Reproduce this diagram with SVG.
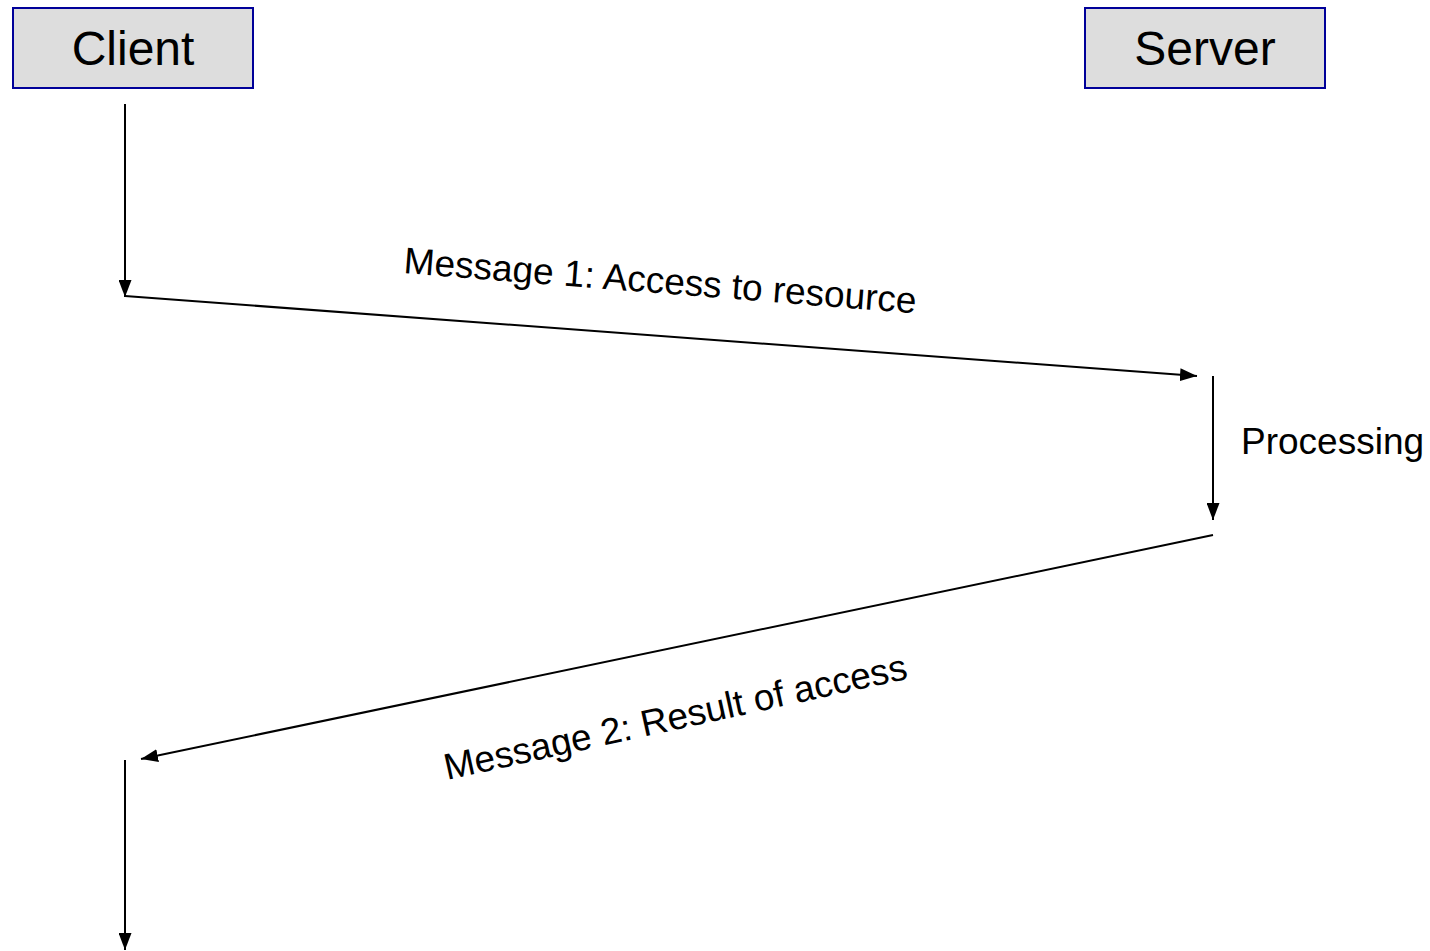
<svg xmlns="http://www.w3.org/2000/svg" width="1430" height="951" viewBox="0 0 1430 951">
<style>
.box{fill:#dddddd;stroke:#000099;stroke-width:2}
.lbl{font-family:"Liberation Sans",Arial,sans-serif;fill:#000}
.t{font-size:48px;text-anchor:middle}
.m{font-size:37px}
.c{stroke:#000;stroke-width:2;fill:none}
</style>
<defs>
<marker id="ah" viewBox="0 0 17 13" refX="17" refY="6.5" markerWidth="17" markerHeight="13" markerUnits="userSpaceOnUse" orient="auto">
<path d="M0,0 L17,6.5 L0,13 Z" fill="#000"/>
</marker>
</defs>
<g id="client">
<rect class="box" x="13" y="8" width="240" height="80"/>
<text class="lbl t" x="133" y="65">Client</text>
</g>
<g id="server">
<rect class="box" x="1085" y="8" width="240" height="80"/>
<text class="lbl t" x="1205" y="65">Server</text>
</g>
<g id="connectors">
<line class="c" x1="125" y1="104" x2="125" y2="297" marker-end="url(#ah)"/>
<line class="c" x1="125" y1="296" x2="1197" y2="376" marker-end="url(#ah)"/>
<line class="c" x1="1213" y1="376" x2="1213" y2="520" marker-end="url(#ah)"/>
<line class="c" x1="1213" y1="535" x2="141" y2="759" marker-end="url(#ah)"/>
<line class="c" x1="125" y1="760" x2="125" y2="950" marker-end="url(#ah)"/>
</g>
<g id="labels">
<text class="lbl m" transform="translate(403,273) rotate(4.5)">Message 1: Access to resource</text>
<text class="lbl m" transform="translate(447,780) rotate(-12.4)">Message 2: Result of access</text>
<text class="lbl m" x="1241" y="454">Processing</text>
</g>
</svg>
